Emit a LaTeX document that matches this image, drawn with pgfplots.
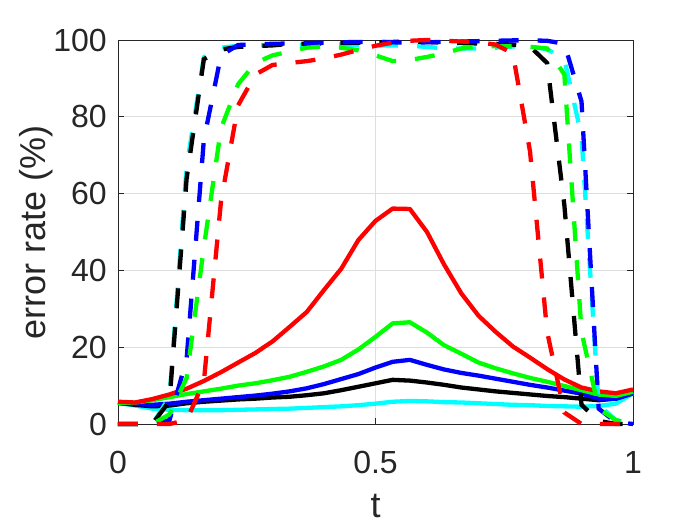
\documentclass[border=0pt]{standalone}
\usepackage{fontspec}
\setmainfont{Liberation Sans}
\usepackage{pgfplots}
\pgfplotsset{compat=1.18}
\usepackage{pgfplotstable}
\definecolor{axc}{rgb}{0.15,0.15,0.15}
\definecolor{gridc}{rgb}{0.87,0.87,0.87}
\definecolor{mgreen}{rgb}{0,1,0}
\definecolor{mcyan}{rgb}{0,1,1}
\definecolor{mred}{rgb}{1,0,0}
\definecolor{mblue}{rgb}{0,0,1}

\pgfplotstableread{
t      rs    gs    bs    ks    cs    rd    gd    bd    kd    cd
0      5.8   5.5   5.5   5.5   5.5   0     0     0     0     0
0.0333 5.6   5.6   5.2   5.0   4.8   0     0     0     0     0
0.0667 6.5   6.2   5.0   4.6   4.0   0     0     0     0     0
0.1    7.7   7.0   5.3   4.8   3.7   0     2.5   1     6     7
0.1333 9.2   7.8   5.8   5.4   3.6   1     12    17    64    67
0.1667 11.2  8.5   6.2   5.8   3.6   11    46    74    95    95.5
0.2    13.5  9.2   6.6   6.1   3.6   58    77    96    97.5  98
0.2333 16.0  10.0  7.0   6.4   3.7   83    88.5  98.7  98.2  98.5
0.2667 18.5  10.6  7.4   6.6   3.8   91    94    98.9  98.4  98.6
0.3    21.5  11.4  7.9   6.9   3.9   93.5  96    99    98.6  98.7
0.3333 25.3  12.3  8.5   7.1   4.0   94    97    99.1  99    98.7
0.3667 29.2  13.6  9.3   7.5   4.2   94.5  98    99.2  99    98.8
0.4    34.9  15.0  10.4  8.0   4.4   95.2  98.3  99.3  99.1  98.8
0.4333 40.4  16.7  11.7  8.8   4.6   96.2  98    99.4  99.2  98.8
0.4667 47.9  19.4  13.0  9.7   4.9   97.4  97.3  99.5  99.3  98.7
0.5    52.9  22.7  14.7  10.6  5.3   98.5  96    99.5  99.4  98.6
0.5333 56.1  26.2  16.2  11.5  5.8   99.3  94.5  99.4  99.5  98.6
0.5667 56.0  26.5  16.7  11.3  6.0   99.8  94.8  99.3  99.6  98.5
0.6    50.0  23.8  15.4  10.8  5.9   100   95.6  99.4  99.5  98.2
0.6333 41.5  20.5  14.2  10.2  5.7   99.8  96.5  99.5  99.3  97.8
0.6667 34.0  18.3  13.3  9.5   5.6   99.6  97.8  99.6  99.2  97.8
0.7    28.2  16.0  12.6  9.0   5.4   99.4  98.3  99.7  99.1  97.8
0.7333 24.0  14.5  11.8  8.5   5.2   98.8  98.4  99.8  99    98
0.7667 20.2  13.2  11.0  8.1   5.0   96.5  98.4  99.9  98.8  98.3
0.8    17.3  12.0  10.2  7.7   4.9   71    98.2  99.9  98.3  98.3
0.8333 14.3  11.0  9.5   7.3   4.7   24    97.8  99.8  94    97.6
0.8667 11.6  9.9   8.7   7.0   4.6   3     91    99    57    95
0.9    9.5   8.8   7.9   6.6   4.5   0     24    84    5     75
0.9333 8.5   7.7   6.6   6.2   4.7   0     4     4     0.8   5
0.9667 8.0   7.3   6.6   6.6   5.3   0     1     0.5   0     1
1      9.0   8.4   8.0   8.0   8.0   0     0     0     0     0
}\data

\begin{document}
\begin{tikzpicture}
\begin{axis}[
  at={(0,0)}, anchor=south west,
  scale only axis, width=515pt, height=384pt,
  xmin=0, xmax=1, ymin=0, ymax=100,
  xtick={0,0.5,1}, xticklabels={0,0.5,1},
  ytick={0,20,40,60,80,100}, yticklabels={0,20,40,60,80,100},
  grid=major, major grid style={gridc, line width=0.8pt},
  axis line style={axc, line width=0.8pt},
  tick style={axc, line width=0.8pt},
  tick align=inside, major tick length=6pt,
  xtick pos=both, ytick pos=both,
  ticklabel style={font=\fontsize{32}{32}\selectfont, text=axc},
  xticklabel style={anchor=base, inner sep=0pt, yshift=-49pt},
  yticklabel style={anchor=east, inner sep=0pt, xshift=-11pt},
  xlabel={t}, ylabel={error rate (\%)},
  label style={font=\fontsize{36}{36}\selectfont, text=axc},
  xlabel style={at={(axis description cs:0.5,-0.243)}, anchor=base},
  ylabel style={at={(axis description cs:-0.1417,0.5)}, anchor=base, rotate=0},
  clip=false,
  every axis plot/.append style={line width=4.3pt, mark=none},
]
\addplot[mcyan, line join=round] table[x=t, y=cs] {\data};
\addplot[black, line join=round] table[x=t, y=ks] {\data};
\addplot[mblue, line join=round] table[x=t, y=bs] {\data};
\addplot[mgreen, line join=round] table[x=t, y=gs] {\data};
\addplot[mred, line join=round] table[x=t, y=rs] {\data};
\addplot[mcyan, dash pattern=on 20pt off 19pt] table[x=t, y=cd] {\data};
\addplot[black, dash pattern=on 20pt off 19pt] table[x=t, y=kd] {\data};
\addplot[mblue, dash pattern=on 20pt off 19pt] table[x=t, y=bd] {\data};
\addplot[mgreen, dash pattern=on 20pt off 19pt] table[x=t, y=gd] {\data};
\addplot[mred, dash pattern=on 20pt off 19pt] table[x=t, y=rd] {\data};
\end{axis}
\pgfresetboundingbox
\path[use as bounding box] (-118pt,-101pt) rectangle (582pt,424pt);
\end{tikzpicture}
\end{document}
